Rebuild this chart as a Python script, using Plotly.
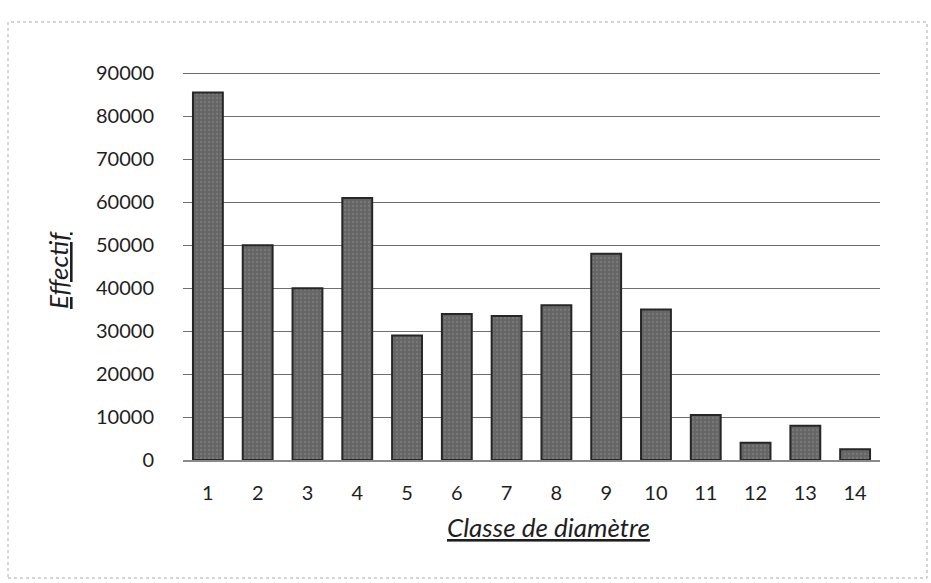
import plotly.graph_objects as go

classes = ["1", "2", "3", "4", "5", "6", "7", "8", "9", "10", "11", "12", "13", "14"]
effectif = [85500, 50000, 40000, 61000, 29000, 34000, 33500, 36000, 48000, 35000, 10500, 4000, 8000, 2500]
y_ticks = [0, 10000, 20000, 30000, 40000, 50000, 60000, 70000, 80000, 90000]

W, H = 931, 583
L, R, T, B = 183, 51, 72, 123
pw, ph = W - L - R, H - T - B

fig = go.Figure()
fig.add_trace(go.Bar(
    x=list(range(1, len(classes) + 1)),
    y=effectif,
    marker=dict(color="#666666", line=dict(color="#262626", width=2),
                pattern=dict(shape=".", fgcolor="#8c8c8c", size=4, solidity=0.25)),
    width=0.6,
    hoverinfo="x+y",
))

fig.update_layout(
    width=W, height=H,
    margin=dict(l=L, r=R, t=T, b=B),
    paper_bgcolor="white", plot_bgcolor="white",
    font=dict(family="Lato, Open Sans, sans-serif", size=20, color="#1e1e1e"),
    showlegend=False,
    xaxis=dict(
        tickmode="array", tickvals=list(range(1, len(classes) + 1)), ticktext=classes,
        range=[0.5, len(classes) + 0.5], showgrid=False, zeroline=False,
        showline=True, linecolor="#8a8a8a", linewidth=2,
        ticks="", ticklabelstandoff=14,
    ),
    yaxis=dict(
        tickmode="array", tickvals=y_ticks, ticktext=[str(v) for v in y_ticks],
        range=[0, 90300], showgrid=True, gridcolor="#6e6e6e", gridwidth=1.2,
        zeroline=False, showline=False, ticks="", ticklabelstandoff=28,
    ),
    annotations=[
        dict(text="<u><i>Classe de diamètre</i></u>", xref="paper", yref="paper",
             x=(548 - L) / pw, y=(H - B - 527) / ph, showarrow=False,
             font=dict(size=26, color="#1e1e1e"), xanchor="center", yanchor="middle"),
        dict(text="<u><i>Effectif</i></u>", xref="paper", yref="paper",
             x=(58 - L) / pw, y=(H - B - 270) / ph, showarrow=False, textangle=-90,
             font=dict(size=26, color="#1e1e1e"), xanchor="center", yanchor="middle"),
    ],
    shapes=[dict(
        type="rect", xref="paper", yref="paper",
        x0=(8 - L) / pw, x1=(927 - L) / pw,
        y0=(H - B - 578) / ph, y1=(H - B - 22) / ph,
        line=dict(color="#aaaaaa", width=1, dash="dot"), layer="below",
    )],
)

fig.write_html("out.html", config={"displayModeBar": False},
               post_script="document.body.style.margin='0px';")
